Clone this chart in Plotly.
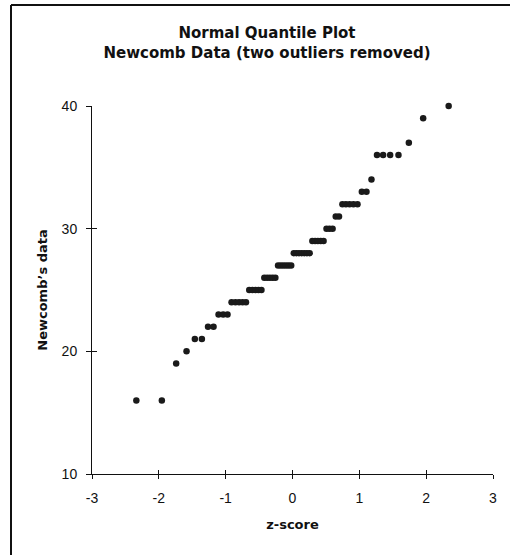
import plotly.graph_objects as go

# Normal scores (z) for the 64 sorted observations
z_scores = [
    -2.3365, -1.9550, -1.7408, -1.5856, -1.4612, -1.3560, -1.2640, -1.1816,
    -1.1066, -1.0373, -0.9726, -0.9118, -0.8542, -0.7993, -0.7467, -0.6961,
    -0.6472, -0.5998, -0.5537, -0.5088, -0.4649, -0.4218, -0.3795, -0.3379,
    -0.2969, -0.2564, -0.2163, -0.1765, -0.1370, -0.0977, -0.0586, -0.0195,
    0.0195, 0.0586, 0.0977, 0.1370, 0.1765, 0.2163, 0.2564, 0.2969,
    0.3379, 0.3795, 0.4218, 0.4649, 0.5088, 0.5537, 0.5998, 0.6472,
    0.6961, 0.7467, 0.7993, 0.8542, 0.9118, 0.9726, 1.0373, 1.1066,
    1.1816, 1.2640, 1.3560, 1.4612, 1.5856, 1.7408, 1.9550, 2.3365,
]
newcomb_sorted = [
    16, 16, 19, 20, 21, 21, 22, 22, 23, 23, 23,
    24, 24, 24, 24, 24, 25, 25, 25, 25, 25,
    26, 26, 26, 26, 26, 27, 27, 27, 27, 27, 27,
    28, 28, 28, 28, 28, 28, 28, 29, 29, 29, 29, 29,
    30, 30, 30, 31, 31, 32, 32, 32, 32, 32, 33, 33,
    34, 36, 36, 36, 36, 37, 39, 40,
]
x_ticks = [-3, -2, -1, 0, 1, 2, 3]
x_tick_labels = ["-3", "-2", "-1", "0", "1", "2", "3"]
y_ticks = [10, 20, 30, 40]

W, H = 510, 555
L, R, T, B = 92, 17, 106, 81
pw, ph = W - L - R, H - T - B

title_font = dict(family="DejaVu Sans", size=15, color="#111", weight="bold")
axis_title_font = dict(family="DejaVu Sans", size=13, color="#111", weight="bold")
tick_font = dict(family="Liberation Sans, Arial", size=14, color="#111")

fig = go.Figure()
fig.add_trace(go.Scatter(
    x=z_scores, y=newcomb_sorted, mode="markers",
    marker=dict(color="#1a1a1a", size=6.5, symbol="circle", line=dict(width=0)),
    cliponaxis=False, showlegend=False, hoverinfo="x+y",
))
# empty trace on the overlay axes so their inner tick halves render
fig.add_trace(go.Scatter(x=[None], y=[None], xaxis="x2", yaxis="y2",
                         showlegend=False, hoverinfo="skip"))

fig.update_layout(
    width=W, height=H,
    margin=dict(l=L, r=R, t=T, b=B, autoexpand=False),
    paper_bgcolor="white", plot_bgcolor="white",
    title=dict(
        text="Normal Quantile Plot<br>Newcomb Data (two outliers removed)",
        font=title_font, x=267 / W, xanchor="center",
        y=1 - 38 / H, yanchor="top", xref="container", yref="container",
    ),
    xaxis=dict(
        range=[-3, 3], tickvals=x_ticks, ticktext=x_tick_labels,
        ticks="outside", ticklen=4, tickwidth=1, tickcolor="#111",
        showline=True, linecolor="#111", linewidth=1,
        showgrid=False, zeroline=False, tickfont=tick_font,
        ticklabelstandoff=7,
        title=dict(text="z-score", font=axis_title_font, standoff=15),
        automargin=False, fixedrange=True,
    ),
    yaxis=dict(
        range=[10, 40], tickvals=y_ticks,
        ticks="outside", ticklen=5, tickwidth=1, tickcolor="#111",
        showline=True, linecolor="#111", linewidth=1,
        showgrid=False, zeroline=False, tickfont=tick_font,
        ticklabelstandoff=6,
        title=dict(text="Newcomb\u2019s data", font=axis_title_font, standoff=11),
        automargin=False, fixedrange=True,
    ),
    xaxis2=dict(
        range=[-3, 3], tickvals=x_ticks, overlaying="x", side="bottom",
        anchor="y2", ticks="inside", ticklen=4, tickwidth=1, tickcolor="#111",
        showticklabels=False, showline=False, showgrid=False, zeroline=False,
        fixedrange=True,
    ),
    yaxis2=dict(
        range=[10, 40], tickvals=y_ticks, overlaying="y", side="left",
        anchor="x2", ticks="inside", ticklen=5, tickwidth=1, tickcolor="#111",
        showticklabels=False, showline=False, showgrid=False, zeroline=False,
        fixedrange=True,
    ),
)

# Outer frame (only top and left edges visible in the cropped original)
fx = (11 - L) / pw
fy = (H - B - 5) / ph
fig.add_shape(type="line", xref="paper", yref="paper",
              x0=fx, y0=fy, x1=(W - L) / pw + 0.05, y1=fy,
              line=dict(color="#111", width=2))
fig.add_shape(type="line", xref="paper", yref="paper",
              x0=fx, y0=fy, x1=fx, y1=-B / ph - 0.05,
              line=dict(color="#111", width=2))

fig.write_html(
    "out.html",
    config={"displayModeBar": False},
    post_script="document.body.style.margin='0';document.body.style.overflow='hidden';",
)
